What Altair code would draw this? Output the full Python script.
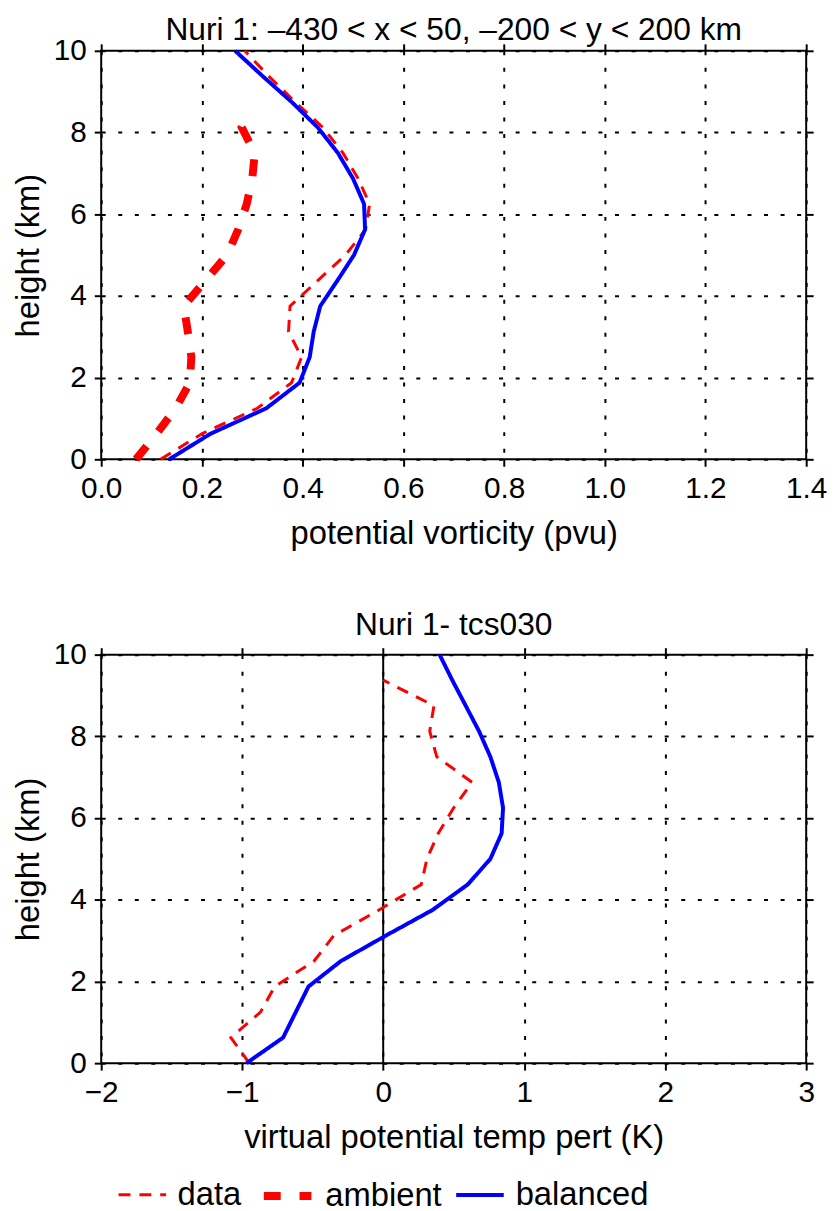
import altair as alt
import pandas as pd

# ---------------- data ----------------
levels = [0.0, 0.625, 1.25, 1.875, 2.5, 3.125, 3.75, 4.375, 5.0, 5.625,
          6.25, 6.875, 7.5, 8.125, 8.75, 9.375, 10.0]

# top panel: potential vorticity (pvu)
pv_data = [0.118, 0.20, 0.31, 0.378, 0.398, 0.372, 0.375, 0.43, 0.485, 0.525,
           0.533, 0.51, 0.48, 0.44, 0.385, 0.333, 0.285]
pv_balanced = [0.135, 0.217, 0.328, 0.394, 0.414, 0.422, 0.435, 0.469, 0.502, 0.524,
               0.522, 0.50, 0.47, 0.43, 0.378, 0.321, 0.266]
amb_levels = [0.0, 0.625, 1.25, 1.875, 2.5, 3.125, 3.75, 4.375, 5.0, 5.625,
              6.25, 6.875, 7.5, 8.125, 8.5]
pv_ambient = [0.069, 0.11, 0.148, 0.176, 0.179, 0.172, 0.164, 0.207, 0.25, 0.272,
              0.289, 0.300, 0.305, 0.279, 0.296]

# bottom panel: virtual potential temperature perturbation (K)
vt_data_levels = [0.0, 0.625, 1.25, 1.875, 2.5, 3.125, 3.75, 4.375, 5.0, 5.625,
                  6.25, 6.875, 7.5, 8.125, 8.75, 9.375]
vt_data = [-0.95, -1.08, -0.87, -0.77, -0.49, -0.35, -0.03, 0.27, 0.31, 0.39,
           0.50, 0.63, 0.38, 0.33, 0.36, 0.0]
vt_balanced = [-0.97, -0.71, -0.62, -0.53, -0.30, 0.02, 0.35, 0.60, 0.76, 0.84,
               0.85, 0.82, 0.76, 0.68, 0.585, 0.49, 0.40]
zero_line = [0.0]

series_order = ["data", "ambient", "balanced"]
series_colors = ["#ff0000", "#ff0000", "#0000ff"]
series_dash = [[12, 9], [17, 19], [1, 0]]
series_width = [3, 8, 4]

pv_ticks = [0.0, 0.2, 0.4, 0.6, 0.8, 1.0, 1.2, 1.4]
vt_ticks = [-2, -1, 0, 1, 2, 3]
km_ticks = [0, 2, 4, 6, 8, 10]

FONT = "Liberation Sans"
W, H = 711, 412

# ---------------- tables ----------------
top_df = pd.concat([
    pd.DataFrame({"series": "data", "km": levels, "val": pv_data}),
    pd.DataFrame({"series": "ambient", "km": amb_levels, "val": pv_ambient}),
    pd.DataFrame({"series": "balanced", "km": levels, "val": pv_balanced}),
], ignore_index=True)

bot_df = pd.concat([
    pd.DataFrame({"series": "data", "km": vt_data_levels, "val": vt_data}),
    pd.DataFrame({"series": "balanced", "km": levels, "val": vt_balanced}),
], ignore_index=True)

zero_df = pd.DataFrame({"val": zero_line})

legend = alt.Legend(
    title=None, orient="none", direction="horizontal", legendX=16, legendY=1127,
    symbolType="stroke", symbolSize=2300, labelFontSize=33, labelFont=FONT,
    labelColor="black", columnPadding=6, labelOffset=10, padding=0,
)

color_enc = alt.Color("series:N", scale=alt.Scale(type="ordinal", domain=series_order, range=series_colors), legend=legend)
dash_enc = alt.StrokeDash("series:N", scale=alt.Scale(type="ordinal", domain=series_order, range=series_dash), legend=legend)
width_enc = alt.StrokeWidth("series:N", scale=alt.Scale(type="ordinal", domain=series_order, range=series_width), legend=legend)


def panel(df, xdomain, xticks, xtitle, xformat, title, title_offset, extra=None):
    xs = alt.Scale(domain=xdomain, nice=False, zero=False)
    ys = alt.Scale(domain=[0, 10], nice=False, zero=False)
    lines = alt.Chart(df).mark_line(strokeCap="butt", strokeJoin="miter").encode(
        x=alt.X("val:Q", scale=xs,
                axis=alt.Axis(title=xtitle, values=xticks, format=xformat, grid=True)),
        y=alt.Y("km:Q", scale=ys,
                axis=alt.Axis(title="height (km)", values=km_ticks, grid=True)),
        color=color_enc, strokeDash=dash_enc, strokeWidth=width_enc,
        order=alt.Order("km:Q"),
    )
    frame = alt.Chart(df).mark_line(opacity=0).encode(
        x=alt.X("val:Q", scale=xs,
                axis=alt.Axis(orient="top", values=xticks, labels=False, title=None, grid=False)),
        y=alt.Y("km:Q", scale=ys,
                axis=alt.Axis(orient="right", values=km_ticks, labels=False, title=None, grid=False)),
        detail="series:N",
    )
    layers = [lines, frame]
    if extra is not None:
        layers = [extra] + layers
    return alt.layer(*layers).resolve_axis(x="independent", y="independent").properties(
        width=W, height=H,
        title=alt.TitleParams(title, fontSize=32, font=FONT, fontWeight="normal",
                              color="black", offset=title_offset),
    )


top = panel(top_df, [0, 1.4], pv_ticks, "potential vorticity (pvu)", ".1f",
            "Nuri 1: \u2013430 < x < 50, \u2013200 < y < 200 km", -11)

zero_rule = alt.Chart(zero_df).mark_rule(color="black", strokeWidth=2).encode(
    x=alt.X("val:Q", scale=alt.Scale(domain=[-2, 3], nice=False, zero=False), axis=None),
)
bottom = panel(bot_df, [-2, 3], vt_ticks, "virtual potential temp pert (K)", "d",
               "Nuri 1- tcs030", -2, extra=zero_rule)

chart = alt.vconcat(top, bottom, spacing=57).properties(
    padding={"left": 3, "top": 0, "right": 0, "bottom": 0},
).configure_view(
    stroke="black", strokeWidth=2,
).configure_axis(
    labelFont=FONT, labelFontSize=30, labelColor="black", labelFlush=False,
    titleFont=FONT, titleFontSize=33, titleColor="black", titleFontWeight="normal",
    domain=False, tickColor="black", tickWidth=2, tickSize=7,
    labelPadding=8, gridColor="black", gridWidth=2, gridDash=[4, 12.7], gridOpacity=1,
).configure_axisY(
    titlePadding=8, labelPadding=8,
).configure_axisX(
    titlePadding=14,
)

chart.save("out.html", embed_options={"renderer": "svg", "actions": False})
